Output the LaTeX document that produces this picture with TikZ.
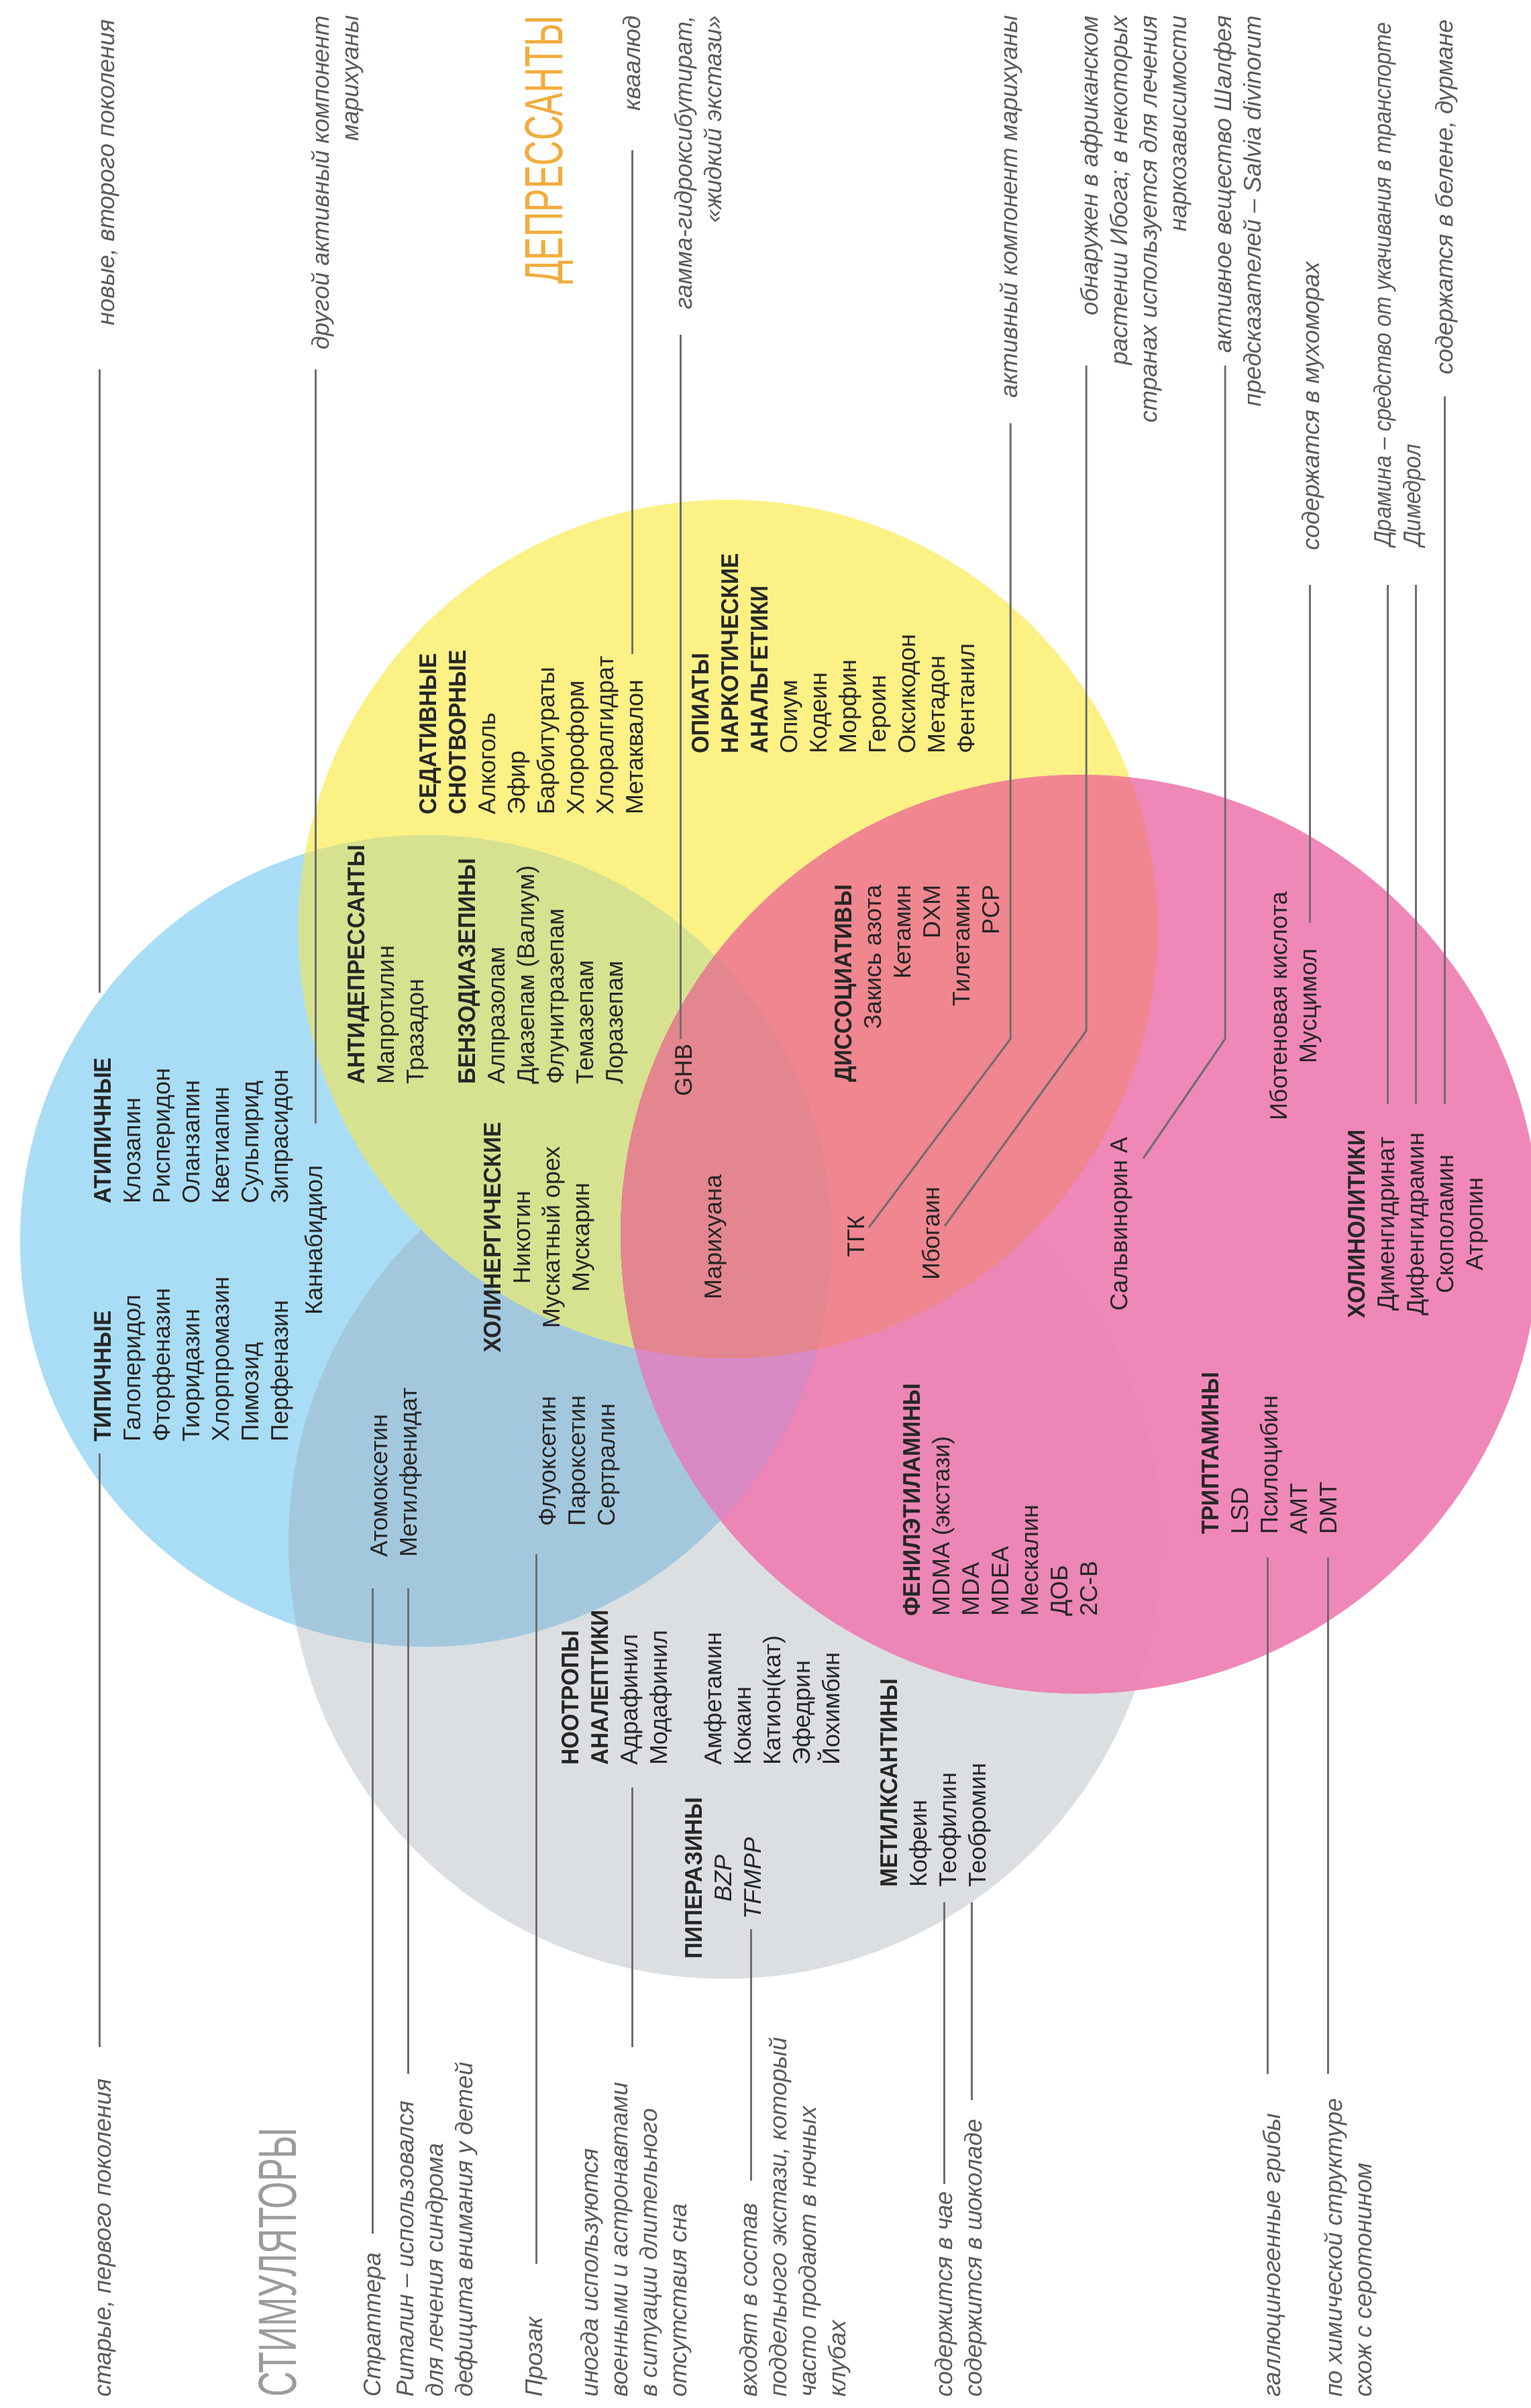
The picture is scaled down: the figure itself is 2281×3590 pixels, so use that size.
\documentclass[tikz,border=0pt]{standalone}
\usepackage{fontspec}
\setmainfont{Liberation Sans}
\newfontfamily\hfont{Liberation Sans}[FakeStretch=0.93]
\newfontfamily\tfont{Liberation Sans}[FakeStretch=0.65]
\newfontfamily\nfont{Liberation Sans}[FakeStretch=0.9]
\definecolor{cgrey}{HTML}{DCDFE2}
\definecolor{cblue}{HTML}{A9DDF5}
\definecolor{cbg}{HTML}{A3C8DE}
\definecolor{cyellow}{HTML}{FBF185}
\definecolor{cby}{HTML}{D6E290}
\definecolor{cpink}{HTML}{F087B9}
\definecolor{cpg}{HTML}{EB86B6}
\definecolor{cpb}{HTML}{D989C4}
\definecolor{cpy}{HTML}{F0868F}
\definecolor{cpyb}{HTML}{E4868F}
\definecolor{txtc}{HTML}{262626}
\definecolor{notec}{HTML}{5A5A5A}
\definecolor{leadc}{HTML}{6E6E6E}
\definecolor{orangec}{HTML}{F2AC3C}
\definecolor{stimc}{HTML}{9B9B9B}
\newcommand\hd[1]{{\hfont\bfseries #1}}
\tikzset{
  lst/.style={rotate=90, inner sep=0pt, align=left, text=txtc, font=\fontsize{36}{44}\selectfont},
  lstc/.style={lst, align=center},
  lstr/.style={lst, align=right},
  note/.style={rotate=90, inner sep=0pt, align=left, text=notec, font=\fontsize{36}{44}\selectfont\itshape},
  noter/.style={note, align=right},
  notenarrow/.style={note, font=\nfont\fontsize{36}{44}\selectfont\itshape},
  ttl/.style={rotate=90, inner sep=0pt, font=\tfont\fontsize{80}{90}\selectfont},
  lead/.style={draw=leadc, line width=3pt}
}
\begin{document}
\begin{tikzpicture}[x=1pt,y=-1pt]
\useasboundingbox (0,0) rectangle (2281,3590);
\fill[white] (0,0) rectangle (2281,3590);
% circles
\fill[cgrey] (1080,2300) circle[radius=650pt];
\fill[cblue] (635,1850) circle[radius=605pt];
\begin{scope}
  \clip (635,1850) circle[radius=605pt];
  \fill[cbg] (1080,2300) circle[radius=650pt];
\end{scope}
\fill[cyellow] (1085,1385) circle[radius=640pt];
\begin{scope}
  \clip (1085,1385) circle[radius=640pt];
  \fill[cby] (635,1850) circle[radius=605pt];
\end{scope}
\fill[cpink] (1610,1840) circle[radius=685pt];
\begin{scope}
  \clip (1610,1840) circle[radius=685pt];
  \fill[cpg] (1080,2300) circle[radius=650pt];
  \fill[cpb] (635,1850) circle[radius=605pt];
  \fill[cpy] (1085,1385) circle[radius=640pt];
  \begin{scope}
    \clip (1085,1385) circle[radius=640pt];
    \fill[cpyb] (635,1850) circle[radius=605pt];
  \end{scope}
\end{scope}

% titles
\node[ttl, text=orangec, anchor=base east] (depr) at (838,23) {ДЕПРЕССАНТЫ};
\node[ttl, text=stimc, anchor=base west] (stim) at (441,3574) {СТИМУЛЯТОРЫ};

% lists
\node[lst, anchor=north west] (typ) at (134,2150) {\strut\hd{ТИПИЧНЫЕ}\\Галоперидол\\Фторфеназин\\Тиоридазин\\Хлорпромазин\\Пимозид\\Перфеназин};
\node[lst, anchor=north west] (atyp) at (134,1795) {\strut\hd{АТИПИЧНЫЕ}\\Клозапин\\Рисперидон\\Оланзапин\\Кветиапин\\Сульпирид\\Зипрасидон};
\node[lst, anchor=north west] (cbd) at (449,1961) {\strut Каннабидиол};
\node[lst, anchor=north west] (antid) at (512,1617) {\strut\hd{АНТИДЕПРЕССАНТЫ}\\Мапротилин\\Тразадон};
\node[lst, anchor=north west] (benzo) at (677,1617) {\strut\hd{БЕНЗОДИАЗЕПИНЫ}\\Алпразолам\\Диазепам (Валиум)\\Флунитразепам\\Темазепам\\Лоразепам};
\node[lst, anchor=north west] (sed) at (619,1215) {\strut\hd{СЕДАТИВНЫЕ}\\\hd{СНОТВОРНЫЕ}\\Алкоголь\\Эфир\\Барбитураты\\Хлороформ\\Хлоралгидрат\\Метаквалон};
\node[lst, anchor=north west] (opi) at (1025,1124) {\strut\hd{ОПИАТЫ}\\\hd{НАРКОТИЧЕСКИЕ}\\\hd{АНАЛЬГЕТИКИ}\\Опиум\\Кодеин\\Морфин\\Героин\\Оксикодон\\Метадон\\Фентанил};
\node[lstc, anchor=north] (choln) at (715,1845) {\strut\hd{ХОЛИНЕРГИЧЕСКИЕ}\\Никотин\\Мускатный орех\\Мускарин};
\node[lst, anchor=north west] (ghb) at (1000,1635) {\strut GHB};
\node[lstr, anchor=north east] (diss) at (1238,1319) {\strut\hd{ДИССОЦИАТИВЫ}\\Закись азота\\Кетамин\\DXM\\Тилетамин\\PCP};
\node[lst, anchor=north west] (mar) at (1044,1938) {\strut Марихуана};
\node[lst, anchor=north west] (thc) at (1257,1875) {\strut ТГК};
\node[lst, anchor=north west] (ibo) at (1369,1909) {\strut Ибогаин};
\node[lst, anchor=north west] (salv) at (1649,1955) {\strut Сальвинорин А};
\node[lstc, anchor=north] (ibot) at (1887,1500) {\strut Иботеновая кислота\\Мусцимол};
\node[lstc, anchor=north] (cholt) at (2003,1825) {\strut\hd{ХОЛИНОЛИТИКИ}\\Дименгидринат\\Дифенгидрамин\\Скополамин\\Атропин};
\node[lst, anchor=north west] (trip) at (1785,2288) {\strut\hd{ТРИПТАМИНЫ}\\LSD\\Псилоцибин\\AMT\\DMT};
\node[lst, anchor=north west] (phen) at (1340,2410) {\strut\hd{ФЕНИЛЭТИЛАМИНЫ}\\MDMA (экстази)\\MDA\\MDEA\\Мескалин\\ДОБ\\2C-B};
\node[lst, anchor=north west] (ssri) at (797,2276) {\strut Флуоксетин\\Пароксетин\\Сертралин};
\node[lst, anchor=north west] (atom) at (546,2322) {\strut Атомоксетин\\Метилфенидат};
\node[lst, anchor=north west] (noot) at (831,2632) {\strut\hd{НООТРОПЫ}\\\hd{АНАЛЕПТИКИ}\\Адрафинил\\Модафинил};
\node[lst, anchor=north west] (amph) at (1044,2632) {\strut Амфетамин\\Кокаин\\Катион(кат)\\Эфедрин\\Йохимбин};
\node[lstc, anchor=north] (pip) at (1015,2800) {\strut\hd{ПИПЕРАЗИНЫ}\\\textit{BZP}\\\textit{TFMPP}};
\node[lst, anchor=north west] (mxan) at (1306,2814) {\strut\hd{МЕТИЛКСАНТИНЫ}\\Кофеин\\Теофилин\\Теобромин};

% top notes
\node[noter, anchor=north east] (n1) at (139,29) {\strut новые, второго поколения};
\node[noter, anchor=north east] (n2) at (459,23) {\strut другой активный компонент\\марихуаны};
\node[noter, anchor=north east] (n3) at (923,23) {\strut кваалюд};
\node[noter, anchor=north east] (n4) at (1000,23) {\strut гамма-гидроксибутират,\\«жидкий экстази»};
\node[noter, anchor=north east] (n5) at (1485,23) {\strut активный компонент марихуаны};
\node[noter, anchor=north east] (n6) at (1605,23) {\strut обнаружен в африканском\\растении Ибога; в некоторых\\странах используется для лечения\\наркозависимости};
\node[noter, anchor=north east] (n7) at (1804,23) {\strut активное вещество Шалфея\\предсказателей – Salvia divinorum};
\node[note, anchor=north west] (n8) at (1935,821) {\strut содержатся в мухоморах};
\node[notenarrow, anchor=north west] (n9) at (2042,815) {\strut Драмина – средство от укачивания в транспорте\\Димедрол};
\node[noter, anchor=north east] (n10) at (2134,29) {\strut содержатся в белене, дурмане};

% bottom notes
\node[note, anchor=north west] (b1) at (134,3574) {\strut старые, первого поколения};
\node[note, anchor=north west] (b3) at (536,3574) {\strut Страттера};
\node[note, anchor=north west] (b4) at (585,3574) {\strut Риталин – использовался\\для лечения синдрома\\дефицита внимания у детей};
\node[note, anchor=north west] (b5) at (777,3574) {\strut Прозак};
\node[note, anchor=north west] (b6) at (860,3574) {\strut иногда используются\\военными и астронавтами\\в ситуации длительного\\отсутствия сна};
\node[note, anchor=north west] (b7) at (1097,3574) {\strut входят в состав\\поддельного экстази, который\\часто продают в ночных\\клубах};
\node[note, anchor=north west] (b8) at (1388,3574) {\strut содержится в чае};
\node[note, anchor=north west] (b9) at (1432,3574) {\strut содержится в шоколаде};
\node[note, anchor=north west] (b10) at (1877,3574) {\strut галлюциногенные грибы};
\node[note, anchor=north west] (b11) at (1969,3574) {\strut по химической структуре\\схож с серотонином};

% leader coordinates
\coordinate (l1a) at (148,551);  \coordinate (l1b) at (148,1480);
\coordinate (l2a) at (470,551);  \coordinate (l2b) at (470,1675);
\coordinate (l3a) at (942,224);  \coordinate (l3b) at (942,975);
\coordinate (l4a) at (1014,499); \coordinate (l4b) at (1014,1549);
\coordinate (l5a) at (1506,631); \coordinate (l5k) at (1506,1549); \coordinate (l5b) at (1295,1830);
\coordinate (l6a) at (1619,545); \coordinate (l6k) at (1619,1537); \coordinate (l6b) at (1408,1828);
\coordinate (l7a) at (1826,545); \coordinate (l7k) at (1826,1549); \coordinate (l7b) at (1704,1727);
\coordinate (l8a) at (1952,872); \coordinate (l8b) at (1952,1376);
\coordinate (l9a) at (2068,872); \coordinate (l9b) at (2068,1646);
\coordinate (l10a) at (2110,872); \coordinate (l10b) at (2110,1646);
\coordinate (l11a) at (2153,591); \coordinate (l11b) at (2153,1646);
\coordinate (l12a) at (148,2167); \coordinate (l12b) at (148,3052);
\coordinate (l13a) at (555,2368); \coordinate (l13b) at (555,3330);
\coordinate (l14a) at (608,2368); \coordinate (l14b) at (608,3092);
\coordinate (l15a) at (799,2317); \coordinate (l15b) at (799,3375);
\coordinate (l16a) at (942,2665); \coordinate (l16b) at (942,3052);
\coordinate (l17a) at (1119,2876); \coordinate (l17b) at (1119,3251);
\coordinate (l18a) at (1407,2836); \coordinate (l18b) at (1407,3256);
\coordinate (l19a) at (1448,2836); \coordinate (l19b) at (1448,3131);
\coordinate (l20a) at (1889,2322); \coordinate (l20b) at (1889,3092);
\coordinate (l21a) at (1979,2322); \coordinate (l21b) at (1979,3092);

\draw[lead] (l1a) -- (l1b);
\draw[lead] (l2a) -- (l2b);
\draw[lead] (l3a) -- (l3b);
\draw[lead] (l4a) -- (l4b);
\draw[lead] (l5a) -- (l5k) -- (l5b);
\draw[lead] (l6a) -- (l6k) -- (l6b);
\draw[lead] (l7a) -- (l7k) -- (l7b);
\draw[lead] (l8a) -- (l8b);
\draw[lead] (l9a) -- (l9b);
\draw[lead] (l10a) -- (l10b);
\draw[lead] (l11a) -- (l11b);
\draw[lead] (l12a) -- (l12b);
\draw[lead] (l13a) -- (l13b);
\draw[lead] (l14a) -- (l14b);
\draw[lead] (l15a) -- (l15b);
\draw[lead] (l16a) -- (l16b);
\draw[lead] (l17a) -- (l17b);
\draw[lead] (l18a) -- (l18b);
\draw[lead] (l19a) -- (l19b);
\draw[lead] (l20a) -- (l20b);
\draw[lead] (l21a) -- (l21b);
\end{tikzpicture}
\end{document}
